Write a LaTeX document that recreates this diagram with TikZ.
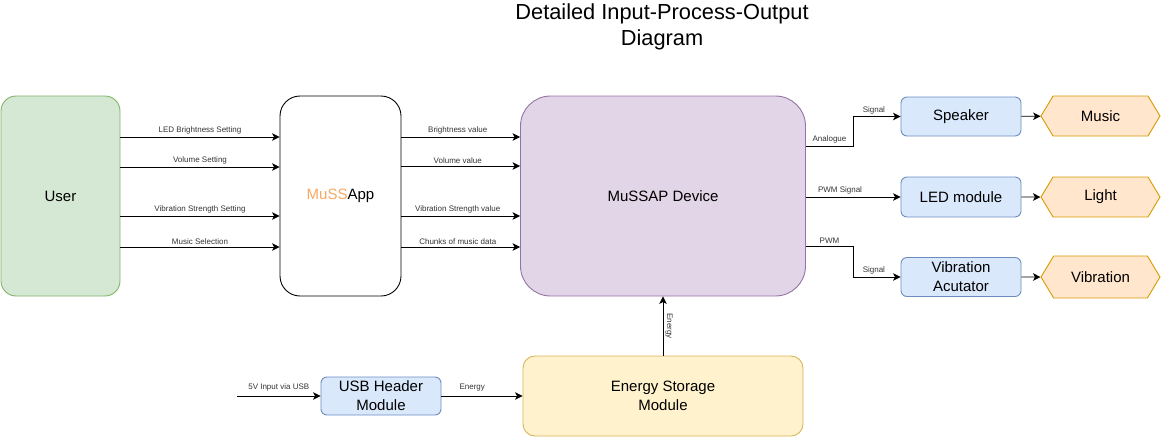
\documentclass[tikz,border=0pt]{standalone}
\usepackage{fontspec}
\setmainfont{Liberation Sans}
\usetikzlibrary{arrows.meta,shapes.symbols}

\definecolor{grnfill}{HTML}{D5E8D4}
\definecolor{grnline}{HTML}{82B366}
\definecolor{purfill}{HTML}{E1D5E7}
\definecolor{purline}{HTML}{9673A6}
\definecolor{blufill}{HTML}{DAE8FC}
\definecolor{bluline}{HTML}{6C8EBF}
\definecolor{orgfill}{HTML}{FFE6CC}
\definecolor{orgline}{HTML}{D79B00}
\definecolor{ylwfill}{HTML}{FFF2CC}
\definecolor{ylwline}{HTML}{D6B656}
\definecolor{mussorange}{RGB}{245,168,98}
\definecolor{lbltext}{HTML}{333333}

\begin{document}
\begin{tikzpicture}[x=1pt,y=-1pt,line width=0.9pt,
	bigtxt/.style={font=\fontsize{15}{19}\selectfont},
	box/.style={draw, bigtxt, rounded corners=6pt, inner sep=0pt, align=center,
		minimum width=120pt, minimum height=39pt},
	blubox/.style={box, fill=blufill, draw=bluline},
	outhex/.style={draw=orgline, fill=orgfill, bigtxt, signal, signal to=east and west,
		signal pointer angle=118, inner sep=0pt, minimum width=119pt, minimum height=40pt},
	lbl/.style={font=\fontsize{8}{9}\selectfont, text=lbltext, inner sep=1pt},
	arr/.style={-{Stealth[length=7.5pt,width=7.5pt,inset=2pt]}}
]
\useasboundingbox (0,0) rectangle (1161,437);

\node[align=center, font=\fontsize{21.8}{26}\selectfont] (title) at (662,27)
	{Detailed Input-Process-Output\\Diagram};

\node[box, fill=grnfill, draw=grnline, rounded corners=15pt,
	minimum width=119pt, minimum height=200pt] (user) at (60.5,196) {User};
\node[box, rounded corners=20pt, minimum width=121pt, minimum height=200pt] (app) at (340.5,196)
	{\textcolor{mussorange}{MuSS}App};
\node[box, fill=purfill, draw=purline, rounded corners=30pt,
	minimum width=285pt, minimum height=200pt] (dev) at (663,196) {MuSSAP Device};

\node[blubox] (spk) at (961,116.5) {Speaker};
\node[blubox, minimum height=40pt] (led) at (961,197) {LED module};
\node[blubox] (vib) at (961,277) {Vibration\\Acutator};

\node[outhex] (music) at (1100.5,116) {Music};
\node[outhex] (light) at (1100.5,197) {Light};
\node[outhex, minimum height=42pt] (vibout) at (1100.5,277) {Vibration};

\node[box, fill=ylwfill, draw=ylwline, rounded corners=12pt,
	minimum width=280pt, minimum height=80pt] (ess) at (663,396) {Energy Storage\\Module};
\node[blubox, minimum height=38pt] (usb) at (381,396) {USB Header\\Module};
\coordinate (usbin) at (237,396);

\foreach \y/\t [count=\i] in {137/LED Brightness Setting, 167/Volume Setting,
	216/Vibration Strength Setting, 247/Music Selection}
{
	\draw[arr] (user.east |- 0,\y) -- node[lbl, above=1pt] (ul\i) {\t} (app.west |- 0,\y);
}

\foreach \y/\t [count=\i] in {137/Brightness value, 166/Volume value,
	216/Vibration Strength value, 247/Chunks of music data}
{
	\draw[arr] (app.east |- 0,\y) -- node[lbl, above=1pt, xshift=-3pt] (al\i) {\t} (dev.west |- 0,\y);
}

\draw[arr] (dev.east |- 0,146) -- node[lbl, above=1pt] (ana) {Analogue} ++(47,0)
	|- node[lbl, pos=0.72, above=1pt] (sig1) {Signal} (spk.west);
\draw[arr] (dev.east |- 0,197) -- node[lbl, pos=0.36, above=1pt] (pwms) {PWM Signal} (led.west);
\draw[arr] (dev.east |- 0,246) -- node[lbl, above=1pt] (pwm) {PWM} ++(47,0)
	|- node[lbl, pos=0.72, above=1pt] (sig2) {Signal} (vib.west);

\foreach \a/\b in {spk/music, led/light, vib/vibout}
{
	\draw[arr] (\a) -- (\b);
}

\draw[arr] (ess.north) -- node[lbl, anchor=south, rotate=-90, inner sep=2pt] (enup) {Energy} (ess.north |- dev.south);
\draw[arr] (usbin) -- node[lbl, above=3pt] (vin) {5V Input via USB} (usb.west);
\draw[arr] (usb) -- node[lbl, pos=0.38, above=3pt] (en) {Energy} (ess);

\end{tikzpicture}
\end{document}
